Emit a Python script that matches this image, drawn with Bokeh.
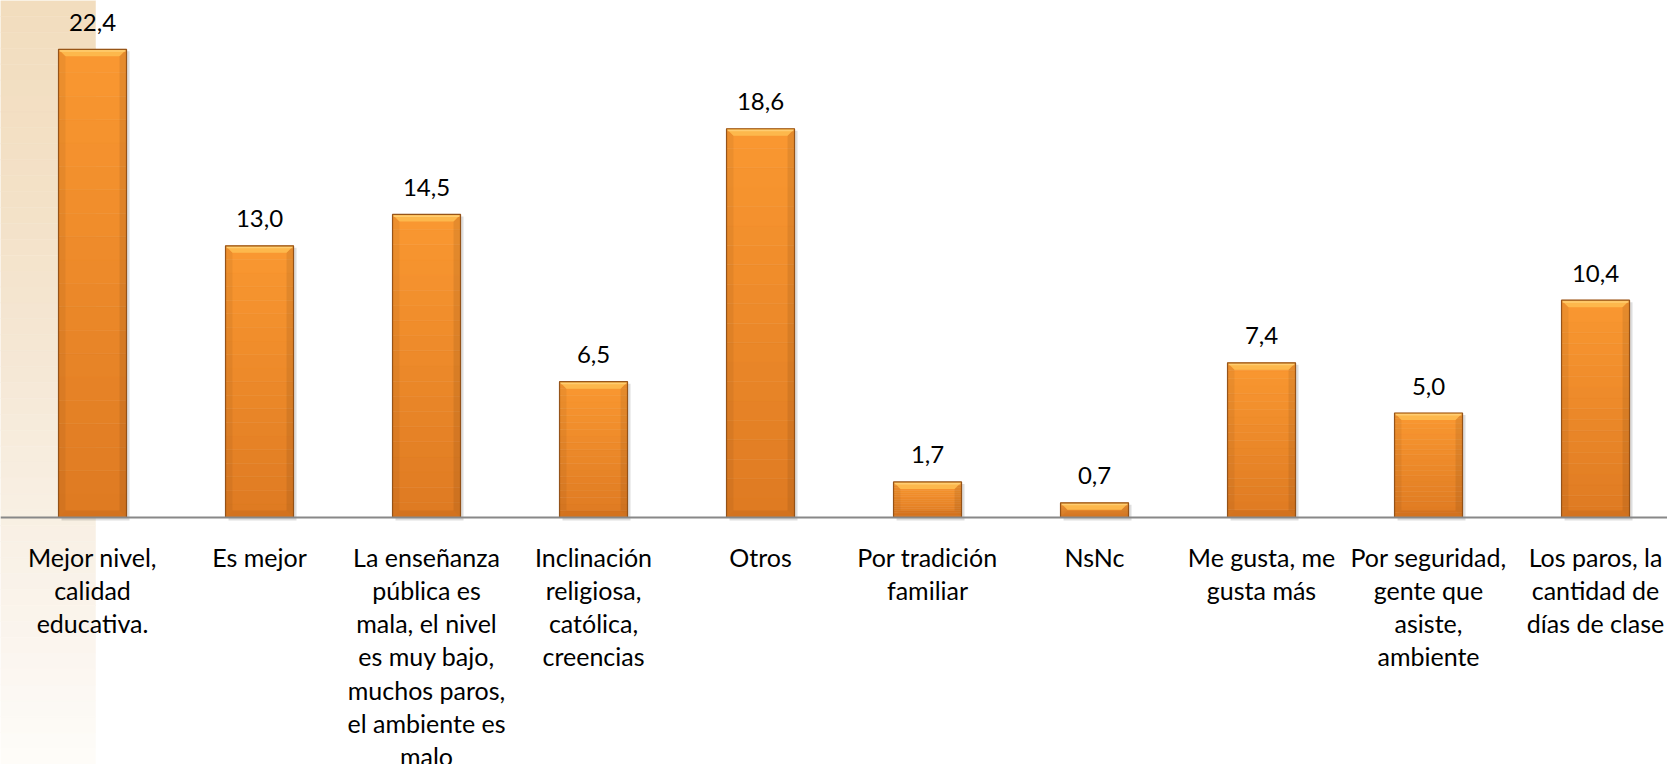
from bokeh.plotting import figure
from bokeh.models import Range1d, Span
from bokeh.core.properties import value
from bokeh.embed import file_html
from bokeh.resources import INLINE

# ---------------- data ----------------
categories = [
    "Mejor nivel,\ncalidad\neducativa.",
    "Es mejor",
    "La enseñanza\npública es\nmala, el nivel\nes muy bajo,\nmuchos paros,\nel ambiente es\nmalo",
    "Inclinación\nreligiosa,\ncatólica,\ncreencias",
    "Otros",
    "Por tradición\nfamiliar",
    "NsNc",
    "Me gusta, me\ngusta más",
    "Por seguridad,\ngente que\nasiste,\nambiente",
    "Los paros, la\ncantidad de\ndías de clase",
]
values = [22.4, 13.0, 14.5, 6.5, 18.6, 1.7, 0.7, 7.4, 5.0, 10.4]
value_labels = [f"{v:.1f}".replace(".", ",") for v in values]

# ---------------- layout ----------------
W, H = 1667, 764
x_start, x_end = -0.551, 9.431
y_start, y_end = -11.818, 24.737
sx = W / (x_end - x_start)      # px per x unit
sy = H / (y_end - y_start)      # px per y unit
BAR_W = 68 / sx
FONT = value("Lato")

p = figure(width=W, height=H,
           x_range=Range1d(x_start, x_end), y_range=Range1d(y_start, y_end),
           output_backend="svg", toolbar_location=None,
           x_axis_location=None, y_axis_location=None, min_border=0)
p.grid.visible = False
p.outline_line_color = None
p.background_fill_color = "white"
p.border_fill_color = "white"

# ---------------- left decorative band (vertical gradient) ----------------
def lerp(c1, c2, t):
    return "#%02x%02x%02x" % tuple(int(round(a + (b - a) * t)) for a, b in zip(c1, c2))

anchors = [(0, (242, 221, 190)), (200, (243, 225, 199)), (350, (245, 231, 212)),
           (500, (248, 239, 226)), (620, (250, 244, 236)), (764, (254, 252, 249))]

def band_color(py):
    for (a, ca), (b, cb) in zip(anchors[:-1], anchors[1:]):
        if a <= py <= b:
            return lerp(ca, cb, (py - a) / (b - a))
    return lerp(anchors[-1][1], anchors[-1][1], 0)

band_right = x_start + 95 / sx
nb = 48
bl, br, bb, bt, bc = [], [], [], [], []
for k in range(nb):
    top_px = k * H / nb
    bot_px = (k + 1) * H / nb
    bl.append(x_start); br.append(band_right)
    bt.append(y_end - top_px / sy); bb.append(y_end - bot_px / sy)
    bc.append(band_color((top_px + bot_px) / 2))
p.quad(left=bl, right=br, bottom=bb, top=bt, fill_color=bc, line_color=bc, line_width=0.5)

xs = list(range(len(values)))

# ---------------- shadow ----------------
p.vbar(x=[x + 3 / sx for x in xs], width=BAR_W, top=[v - 2 / sy for v in values],
       bottom=-3 / sy, fill_color="black", fill_alpha=0.13, line_color=None)

# ---------------- bars: vertical gradient ----------------
c_bot = (222, 122, 34)
c_top = (250, 152, 49)
N = 20
gx, gb, gt, gc = [], [], [], []
for x, v in zip(xs, values):
    for k in range(N):
        gx.append(x); gb.append(v * k / N); gt.append(v * (k + 1) / N)
        gc.append(lerp(c_bot, c_top, (k + 0.5) / N))
p.vbar(x=gx, width=BAR_W, bottom=gb, top=gt, fill_color=gc, line_color=gc, line_width=0.5)

# ---------------- bevels ----------------
dx = 7 / sx
dy = 7 / sy
top_xs, top_ys, bot_xs, bot_ys, l_xs, l_ys, r_xs, r_ys = [], [], [], [], [], [], [], []
for x, v in zip(xs, values):
    L, R = x - BAR_W / 2, x + BAR_W / 2
    d = min(dy, v / 2)
    top_xs.append([L, R, R - dx, L + dx]); top_ys.append([v, v, v - d, v - d])
    bot_xs.append([L, R, R - dx, L + dx]); bot_ys.append([0, 0, d, d])
    l_xs.append([L, L + dx, L + dx, L]); l_ys.append([v, v - d, d, 0])
    r_xs.append([R, R - dx, R - dx, R]); r_ys.append([v, v - d, d, 0])
p.patches(l_xs, l_ys, fill_color="black", fill_alpha=0.05, line_color=None)
p.patches(r_xs, r_ys, fill_color="black", fill_alpha=0.08, line_color=None)
p.patches(bot_xs, bot_ys, fill_color="#a85010", fill_alpha=0.22, line_color=None)
p.patches(top_xs, top_ys, fill_color="#fdb84c", fill_alpha=1.0, line_color=None)
p.vbar(x=xs, width=BAR_W - 2 / sx, top=[v - 1 / sy for v in values], bottom=[v - 2.5 / sy for v in values],
       fill_color="#ffd27a", fill_alpha=0.8, line_color=None)

# outline
p.vbar(x=xs, width=BAR_W, top=values, bottom=0, fill_color=None,
       line_color="#8c4a12", line_width=1.2, line_alpha=0.9)

# ---------------- baseline ----------------
p.add_layout(Span(location=0, dimension="width", line_color="#888888", line_width=2))

# ---------------- texts ----------------
p.text(x=xs, y=values, text=value_labels, text_font=FONT, text_font_size="24px",
       text_color="#000000", text_align="center", text_baseline="alphabetic", y_offset=-27)

p.text(x=xs, y=[0] * len(xs), text=categories, text_font=FONT, text_font_size="25px",
       text_color="#000000", text_align="center", text_baseline="top",
       y_offset=24, text_line_height=1.111)

open("out.html", "w").write(file_html(p, INLINE))
